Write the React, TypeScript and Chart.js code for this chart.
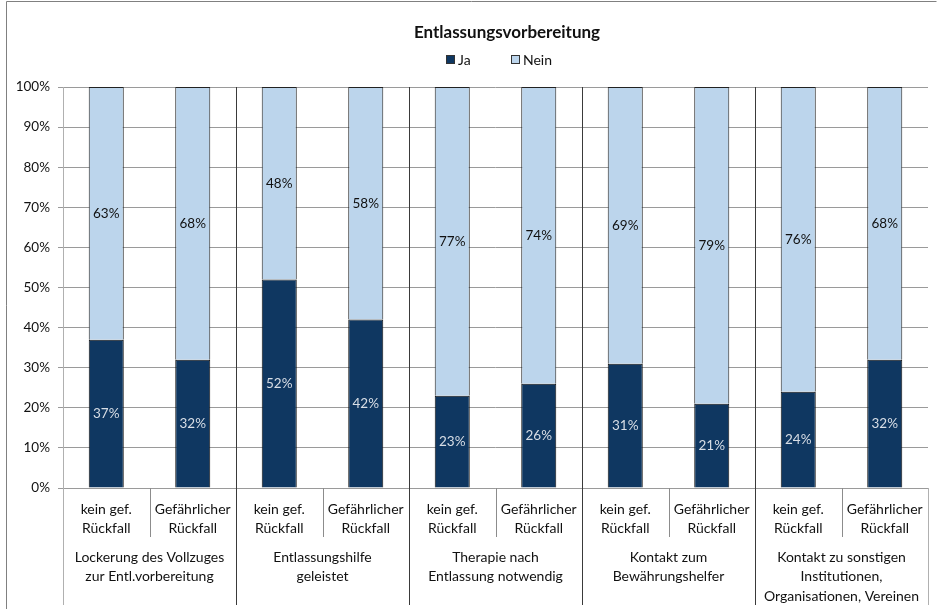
import React, { useEffect, useRef } from "react";
import { Chart, registerables } from "chart.js";

Chart.register(...registerables);

const title = "Entlassungsvorbereitung";
const seriesNames = ["Ja", "Nein"];
const categoryLabels: string[][] = [
  ["kein gef.", "Rückfall"],
  ["Gefährlicher", "Rückfall"],
  ["kein gef.", "Rückfall"],
  ["Gefährlicher", "Rückfall"],
  ["kein gef.", "Rückfall"],
  ["Gefährlicher", "Rückfall"],
  ["kein gef.", "Rückfall"],
  ["Gefährlicher", "Rückfall"],
  ["kein gef.", "Rückfall"],
  ["Gefährlicher", "Rückfall"],
];
const groupLabels: string[][] = [
  ["Lockerung des Vollzuges", "zur Entl.vorbereitung"],
  ["Entlassungshilfe", "geleistet"],
  ["Therapie nach", "Entlassung notwendig"],
  ["Kontakt zum", "Bewährungshelfer"],
  ["Kontakt zu sonstigen", "Institutionen,", "Organisationen, Vereinen"],
];
const jaValues = [37, 32, 52, 42, 23, 26, 31, 21, 24, 32];
const neinValues = [63, 68, 48, 58, 77, 74, 69, 79, 76, 68];

const JA_COLOR = "#0f3761";
const NEIN_COLOR = "#bcd5ec";
const FONT = "Lato, 'Open Sans', sans-serif";

const overlayPlugin = {
  id: "overlay",
  afterDraw(chart: any) {
    const ctx = chart.ctx;
    const area = chart.chartArea;
    const xs = chart.scales.x;
    const W = chart.width;
    const n = categoryLabels.length;
    const step = (area.right - area.left) / n;
    ctx.save();

    // outer border
    ctx.strokeStyle = "#808080";
    ctx.lineWidth = 1;
    ctx.beginPath();
    ctx.moveTo(6.5, 700);
    ctx.lineTo(6.5, 1.5);
    ctx.lineTo(W - 1.5, 1.5);
    ctx.stroke();

    // title
    ctx.fillStyle = "#111";
    ctx.font = `bold 17px ${FONT}`;
    ctx.textAlign = "center";
    ctx.textBaseline = "middle";
    ctx.fillText(title, 507, 33);

    // legend
    ctx.font = `14px ${FONT}`;
    ctx.textAlign = "left";
    const legendItems = [
      { x: 446, color: JA_COLOR, text: seriesNames[0] },
      { x: 511, color: NEIN_COLOR, text: seriesNames[1] },
    ];
    legendItems.forEach((it) => {
      ctx.fillStyle = it.color;
      ctx.fillRect(it.x, 55, 9, 9);
      ctx.strokeStyle = "#333";
      ctx.strokeRect(it.x + 0.5, 55.5, 8, 8);
      ctx.fillStyle = "#111";
      ctx.fillText(it.text, it.x + 12, 60.5);
    });

    // data labels
    ctx.textAlign = "center";
    ctx.textBaseline = "middle";
    ctx.font = `13.5px ${FONT}`;
    const ys = chart.scales.y;
    for (let i = 0; i < n; i++) {
      const cx = xs.getPixelForValue(i);
      const ja = jaValues[i];
      const nein = neinValues[i];
      ctx.fillStyle = "#d8dee6";
      ctx.fillText(ja + "%", cx, ys.getPixelForValue(ja / 2));
      ctx.fillStyle = "#111";
      ctx.fillText(nein + "%", cx, ys.getPixelForValue(ja + nein / 2));
    }

    // axis lines / separators
    const bottom = area.bottom;
    ctx.lineWidth = 1;
    ctx.strokeStyle = "#9a9a9a";
    ctx.beginPath();
    ctx.moveTo(area.left, Math.round(bottom) + 0.5);
    ctx.lineTo(area.right, Math.round(bottom) + 0.5);
    ctx.stroke();
    ctx.strokeStyle = "#b0b0b0";
    ctx.beginPath();
    ctx.moveTo(Math.round(area.left) + 0.5, area.top);
    ctx.lineTo(Math.round(area.left) + 0.5, 605);
    ctx.stroke();
    ctx.beginPath();
    ctx.moveTo(Math.round(area.right) + 0.5, bottom);
    ctx.lineTo(Math.round(area.right) + 0.5, 605);
    ctx.stroke();
    ctx.strokeStyle = "#8c8c8c";
    for (let i = 1; i < n; i += 2) {
      const x = Math.round(area.left + step * i) + 0.5;
      ctx.beginPath();
      ctx.moveTo(x, bottom);
      ctx.lineTo(x, 537);
      ctx.stroke();
    }
    ctx.strokeStyle = "#3a3a3a";
    for (let i = 2; i < n; i += 2) {
      const x = Math.round(area.left + step * i) + 0.5;
      ctx.beginPath();
      ctx.moveTo(x, area.top);
      ctx.lineTo(x, 605);
      ctx.stroke();
    }

    // category labels
    ctx.fillStyle = "#111";
    ctx.font = `14px ${FONT}`;
    for (let i = 0; i < n; i++) {
      const cx = xs.getPixelForValue(i);
      categoryLabels[i].forEach((line, k) => {
        ctx.fillText(line, cx, 509 + k * 19);
      });
    }
    groupLabels.forEach((lines, g) => {
      const cx = area.left + step * (2 * g + 1);
      lines.forEach((line, k) => {
        ctx.fillText(line, cx, 557 + k * 19.5);
      });
    });
    ctx.restore();
  },
};

export default function App() {
  const ref = useRef<HTMLCanvasElement | null>(null);
  useEffect(() => {
    document.body.style.margin = "0";
    const canvas = ref.current!;
    const chart = new Chart(canvas, {
      type: "bar",
      data: {
        labels: categoryLabels.map((l) => l.join(" ")),
        datasets: [
          {
            label: seriesNames[0],
            data: jaValues,
            backgroundColor: JA_COLOR,
            borderColor: "#111",
            borderWidth: 1,
            barPercentage: 0.405,
            categoryPercentage: 1,
          },
          {
            label: seriesNames[1],
            data: neinValues,
            backgroundColor: NEIN_COLOR,
            borderColor: "#222",
            borderWidth: 1,
            barPercentage: 0.405,
            categoryPercentage: 1,
          },
        ],
      },
      options: {
        animation: false,
        responsive: false,
        devicePixelRatio: 1,
        layout: { padding: { left: 0, right: 10, top: 87, bottom: 121 } },
        plugins: {
          legend: { display: false },
          title: { display: false },
          tooltip: { enabled: false },
        },
        scales: {
          x: {
            stacked: true,
            display: true,
            ticks: { display: false },
            grid: { display: false },
            border: { display: false },
            afterFit: (s: any) => {
              s.height = 0;
            },
          },
          y: {
            stacked: true,
            min: 0,
            max: 100,
            ticks: {
              stepSize: 10,
              callback: (v: any) => v + "%",
              color: "#111",
              font: { family: FONT, size: 13.5 },
              padding: 8,
            },
            grid: {
              color: "#9a9a9a",
              tickLength: 5,
              drawTicks: true,
            },
            border: { display: false },
            afterFit: (s: any) => {
              s.width = 63;
            },
          },
        },
      },
      plugins: [overlayPlugin],
    });
    return () => chart.destroy();
  }, []);
  return <canvas ref={ref} width={938} height={609} style={{ display: "block" }} />;
}
